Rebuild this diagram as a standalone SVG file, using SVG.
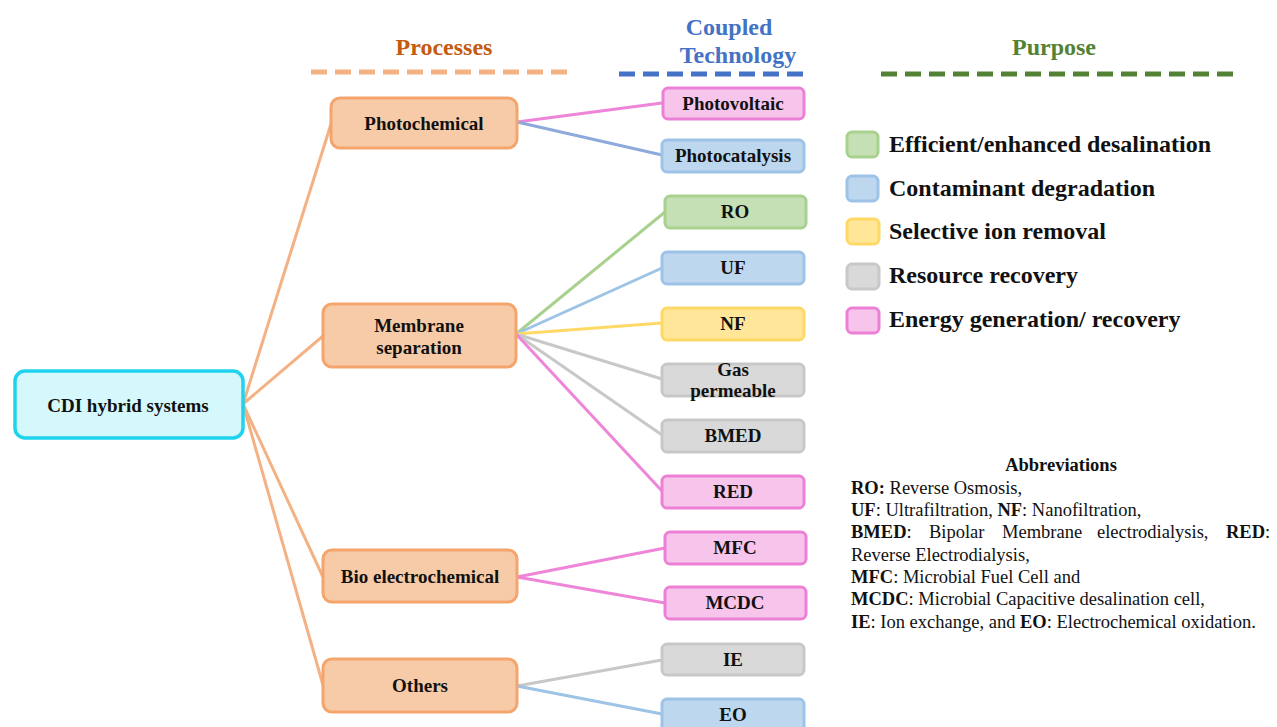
<svg xmlns="http://www.w3.org/2000/svg" width="1277" height="727" viewBox="0 0 1277 727" font-family="'Liberation Serif', 'Times New Roman', 'DejaVu Serif', serif">
<style>
text{font-family:'Liberation Serif','Times New Roman','DejaVu Serif',serif;fill:#111}
.lbl{font-weight:bold;font-size:19px;text-anchor:middle}
.hdr{font-weight:bold;font-size:24px;text-anchor:middle}
.leg{font-weight:bold;font-size:24px}
.abb{font-size:18.5px}
.b{font-weight:bold}
.proc{fill:#f8cba8;stroke:#f4a46d;stroke-width:3}
.root{fill:#d5f8fc;stroke:#1fd3ee;stroke-width:3.5}
.g{fill:#c5e0b4;stroke:#a9d18e;stroke-width:3}
.bl{fill:#bdd7ee;stroke:#9dc3e6;stroke-width:3}
.y{fill:#ffe699;stroke:#ffd966;stroke-width:3}
.gr{fill:#d9d9d9;stroke:#c8c8c8;stroke-width:3}
.p{fill:#f7c5ec;stroke:#ec80d6;stroke-width:3}
#connectors line{stroke-width:3;fill:none}
.co{stroke:#f4b183}
.cp{stroke:#ee85d8}
.cb{stroke:#8eaadc}
.clb{stroke:#9dc3e6}
.cg{stroke:#a9d18e}
.cy{stroke:#ffd966}
.cgr{stroke:#c8c8c8}
</style>
<rect width="1277" height="727" fill="#fff"/>
<g id="headers">
<text class="hdr" x="444" y="55" style="fill:#c55a11">Processes</text>
<line x1="311" y1="72" x2="570" y2="72" stroke="#f4b183" stroke-width="5" stroke-dasharray="16,8"/>
<text class="hdr" x="729" y="35" style="fill:#4472c4">Coupled</text>
<text class="hdr" x="738" y="63" style="fill:#4472c4">Technology</text>
<line x1="619" y1="74" x2="807" y2="74" stroke="#4472c4" stroke-width="5" stroke-dasharray="16,8"/>
<text class="hdr" x="1054" y="55" style="fill:#548235">Purpose</text>
<line x1="881" y1="74" x2="1237" y2="74" stroke="#548235" stroke-width="5" stroke-dasharray="16,8"/>
</g>
<g id="connectors">
<line class="co" x1="243" y1="404" x2="331" y2="124"/>
<line class="co" x1="243" y1="404" x2="323" y2="336"/>
<line class="co" x1="243" y1="404" x2="323" y2="577"/>
<line class="co" x1="243" y1="404" x2="323" y2="685"/>
<line class="cp" x1="517" y1="122" x2="662" y2="103"/>
<line class="cb" x1="517" y1="122" x2="662" y2="155"/>
<line class="cg" x1="516" y1="334" x2="665" y2="212"/>
<line class="clb" x1="516" y1="334" x2="662" y2="268"/>
<line class="cy" x1="516" y1="334" x2="662" y2="323"/>
<line class="cgr" x1="516" y1="334" x2="662" y2="379"/>
<line class="cgr" x1="516" y1="334" x2="662" y2="435"/>
<line class="cp" x1="516" y1="334" x2="662" y2="491"/>
<line class="cp" x1="517" y1="577" x2="665" y2="548"/>
<line class="cp" x1="517" y1="577" x2="665" y2="603"/>
<line class="cgr" x1="517" y1="686" x2="662" y2="660"/>
<line class="clb" x1="517" y1="686" x2="662" y2="714"/>
</g>
<g id="root"><rect class="root" x="15" y="371" width="228" height="67" rx="10"/><text class="lbl" x="128" y="412">CDI hybrid systems</text></g>
<g id="photochemical"><rect class="proc" x="331" y="98" width="186" height="50" rx="9"/><text class="lbl" x="424" y="130">Photochemical</text></g>
<g id="membrane"><rect class="proc" x="323" y="304" width="193" height="63" rx="9"/><text class="lbl" x="419" y="332">Membrane</text><text class="lbl" x="419" y="354">separation</text></g>
<g id="bio"><rect class="proc" x="323" y="550" width="194" height="52" rx="9"/><text class="lbl" x="420" y="583">Bio electrochemical</text></g>
<g id="others"><rect class="proc" x="323" y="659" width="194" height="53" rx="9"/><text class="lbl" x="420" y="692">Others</text></g>
<g id="photovoltaic"><rect class="p" x="663" y="88" width="141" height="31" rx="5"/><text class="lbl" x="733" y="110">Photovoltaic</text></g>
<g id="photocatalysis"><rect class="bl" x="662" y="140" width="142" height="32" rx="5"/><text class="lbl" x="733" y="162">Photocatalysis</text></g>
<g id="ro"><rect class="g" x="665" y="196" width="141" height="32" rx="5"/><text class="lbl" x="735" y="218">RO</text></g>
<g id="uf"><rect class="bl" x="662" y="252" width="142" height="32" rx="5"/><text class="lbl" x="733" y="274">UF</text></g>
<g id="nf"><rect class="y" x="662" y="308" width="142" height="32" rx="5"/><text class="lbl" x="733" y="330">NF</text></g>
<g id="gas"><rect class="gr" x="662" y="364" width="142" height="32" rx="5"/><text class="lbl" x="733" y="376">Gas</text><text class="lbl" x="733" y="397">permeable</text></g>
<g id="bmed"><rect class="gr" x="662" y="420" width="142" height="32" rx="5"/><text class="lbl" x="733" y="442">BMED</text></g>
<g id="red"><rect class="p" x="662" y="476" width="142" height="32" rx="5"/><text class="lbl" x="733" y="498">RED</text></g>
<g id="mfc"><rect class="p" x="665" y="532" width="141" height="32" rx="5"/><text class="lbl" x="735" y="554">MFC</text></g>
<g id="mcdc"><rect class="p" x="665" y="587" width="141" height="32" rx="5"/><text class="lbl" x="735" y="609">MCDC</text></g>
<g id="ie"><rect class="gr" x="662" y="644" width="142" height="31" rx="5"/><text class="lbl" x="733" y="666">IE</text></g>
<g id="eo"><rect class="bl" x="662" y="699" width="142" height="32" rx="5"/><text class="lbl" x="733" y="721">EO</text></g>
<g id="legend">
<rect class="g" x="847" y="132" width="31" height="25" rx="5"/><text class="leg" x="889" y="152">Efficient/enhanced desalination</text>
<rect class="bl" x="847" y="176" width="31" height="25" rx="5"/><text class="leg" x="889" y="196">Contaminant degradation</text>
<rect class="y" x="847" y="219" width="32" height="25" rx="5"/><text class="leg" x="889" y="239">Selective ion removal</text>
<rect class="gr" x="847" y="264" width="32" height="25" rx="5"/><text class="leg" x="889" y="283">Resource recovery</text>
<rect class="p" x="847" y="308" width="32" height="25" rx="5"/><text class="leg" x="889" y="327">Energy generation/ recovery</text>
</g>
<g id="abbreviations">
<text x="1061" y="471" style="font-weight:bold;font-size:18.5px;text-anchor:middle">Abbreviations</text>
<text class="abb" x="851" y="494"><tspan class="b">RO:</tspan> Reverse Osmosis,</text>
<text class="abb" x="851" y="516"><tspan class="b">UF</tspan>: Ultrafiltration,  <tspan class="b">NF</tspan>: Nanofiltration,</text>
<text class="abb" x="851" y="538"><tspan class="b">BMED</tspan>:<tspan x="929">Bipolar</tspan><tspan x="1002">Membrane</tspan><tspan x="1097">electrodialysis,</tspan><tspan x="1226" class="b">RED</tspan>:</text>
<text class="abb" x="851" y="561">Reverse Electrodialysis,</text>
<text class="abb" x="851" y="583"><tspan class="b">MFC</tspan>: Microbial Fuel Cell and</text>
<text class="abb" x="851" y="605"><tspan class="b">MCDC</tspan>: Microbial Capacitive desalination cell,</text>
<text class="abb" x="851" y="628"><tspan class="b">IE</tspan>: Ion exchange, and <tspan class="b">EO</tspan>: Electrochemical oxidation.</text>
</g>
</svg>
